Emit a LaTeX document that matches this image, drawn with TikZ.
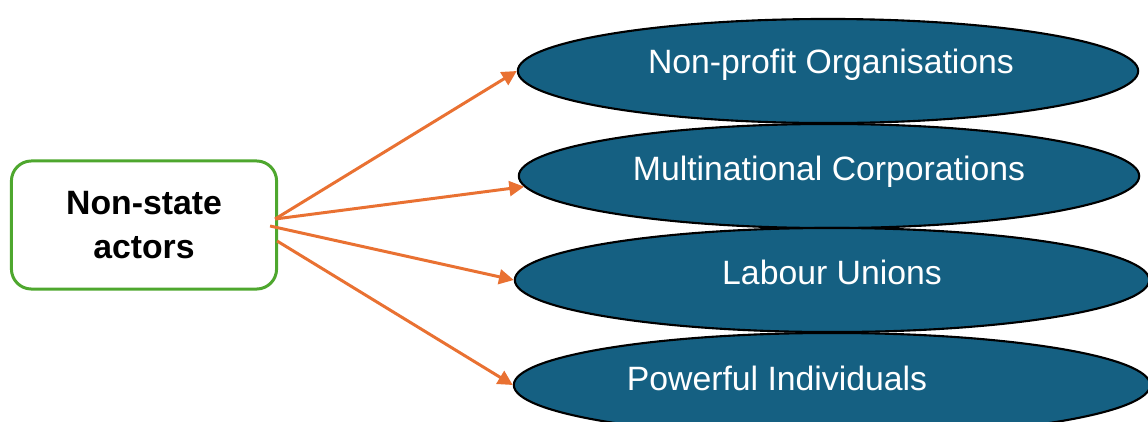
\documentclass[tikz,border=0pt]{standalone}
\usepackage{fontspec}
\setmainfont{Liberation Sans}
\usetikzlibrary{shapes.geometric,arrows.meta}
\definecolor{bleuacteur}{HTML}{156082}
\definecolor{vertcadre}{HTML}{4EA72E}
\definecolor{orangefleche}{HTML}{E97132}
\tikzset{
   acteur/.style={ellipse, draw=black, line width=0.6pt, fill=bleuacteur,
      minimum width=6.2cm, minimum height=1.04cm},
   titre/.style={text=white, font=\fontsize{9.6}{11}\selectfont},
   fleche/.style={draw=orangefleche, line width=0.85pt,
      -{Triangle[length=4.2pt,width=4.2pt]}}
}
\begin{document}
\begin{tikzpicture}[x=0.01cm, y=-0.01cm]
         \useasboundingbox (0,0) rectangle (1148,421);
         
         % Dessiner le bloc de gauche
         \node[draw=vertcadre, line width=0.85pt, rounded corners=0.2cm,
            minimum width=2.65cm, minimum height=1.28cm, align=center,
            font=\bfseries\fontsize{9.6}{12.5}\selectfont] (nsa) at (144,225) {Non-state\\actors};
         
         % Dessiner les ellipses des acteurs
         \node[acteur, label={[titre, xshift=0.03cm, yshift=0.06cm]center:Non-profit Organisations}] (npo) at (828,71) {};
         \node[acteur, label={[titre, yshift=0.04cm]center:Multinational Corporations}] (mnc) at (829,176) {};
         \node[acteur, minimum width=6.34cm, label={[titre, yshift=0.08cm]center:Labour Unions}] (lu) at (832,280) {};
         \node[acteur, minimum width=6.36cm, label={[titre, xshift=-0.55cm, yshift=0.07cm]center:Powerful Individuals}] (pi) at (832,385) {};
         
         % Tracer les flèches depuis le bloc
         \draw[fleche] (nsa.east) ++(-3,-6) -- (npo.west);
         \draw[fleche] (nsa.east) ++(-3,-6) -- (mnc.182);
         \draw[fleche] (nsa.east) ++(-8,1) -- (lu.west);
         \draw[fleche] (nsa.east) ++(-1,16) -- (pi.west);
\end{tikzpicture}
\end{document}
